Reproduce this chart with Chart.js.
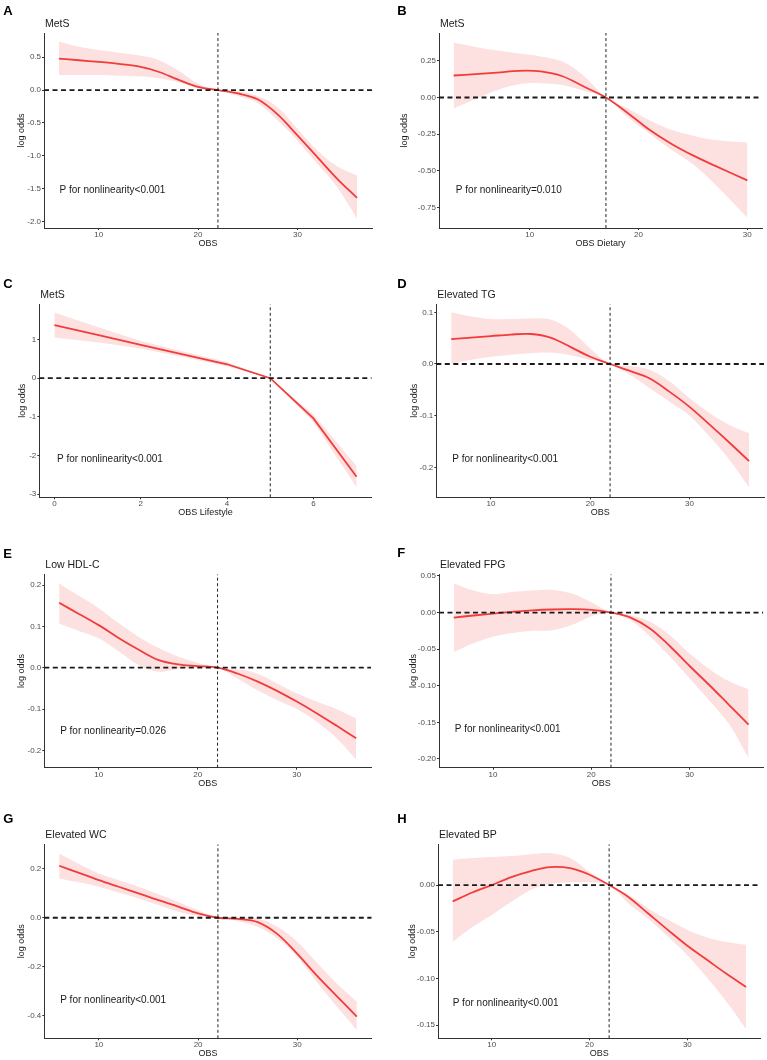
<!DOCTYPE html>
<html lang="en">
<head>
<meta charset="UTF-8">
<title>OBS restricted cubic spline panels</title>
<script src="https://cdn.jsdelivr.net/npm/chart.js"></script>
<style>
  body { margin: 0; background: #fff; }
  #wrap { position: relative; width: 767px; height: 1060px; }
  #wrap canvas { position: absolute; }
</style>
</head>
<body>
<div id="wrap"></div>
<script>
// ---- data ----
const obsGrid = [6, 8, 10, 12, 14, 16, 18, 20, 22, 24, 26, 28, 30, 32, 34, 36];
const obsDietary = [3, 5, 7, 9, 11, 13, 15, 17, 19, 21, 23, 25, 27, 30];
const obsLifestyle = [0, 1, 2, 3, 4, 5, 6, 7];

const fitA = [0.48, 0.455, 0.43, 0.40, 0.36, 0.28, 0.16, 0.05, 0, -0.05, -0.14, -0.37, -0.69, -1.02, -1.35, -1.64];
const upperA = [0.74, 0.66, 0.61, 0.57, 0.53, 0.46, 0.30, 0.10, 0, -0.02, -0.09, -0.26, -0.59, -0.92, -1.16, -1.30];
const lowerA = [0.23, 0.23, 0.23, 0.22, 0.21, 0.18, 0.12, 0.03, 0, -0.09, -0.20, -0.46, -0.77, -1.12, -1.48, -1.96];

const fitB = [0.15, 0.16, 0.17, 0.182, 0.178, 0.145, 0.073, 0, -0.105, -0.22, -0.315, -0.395, -0.465, -0.565];
const upperB = [0.375, 0.345, 0.32, 0.30, 0.28, 0.245, 0.145, 0, -0.075, -0.155, -0.22, -0.26, -0.29, -0.307];
const lowerB = [-0.075, -0.01, 0.05, 0.09, 0.098, 0.086, 0.045, 0, -0.135, -0.245, -0.355, -0.455, -0.59, -0.82];

const fitC = [1.37, 1.12, 0.86, 0.61, 0.36, 0, -1.04, -2.55];
const upperC = [1.70, 1.32, 0.96, 0.68, 0.42, 0, -0.94, -2.27];
const lowerC = [1.05, 0.93, 0.77, 0.54, 0.31, 0, -1.13, -2.82];

const fitD = [0.048, 0.051, 0.054, 0.057, 0.058, 0.051, 0.033, 0.014, 0, -0.0135, -0.028, -0.054, -0.083, -0.117, -0.152, -0.188];
const upperD = [0.10, 0.092, 0.087, 0.087, 0.088, 0.086, 0.066, 0.03, 0, -0.004, -0.011, -0.034, -0.066, -0.095, -0.118, -0.134];
const lowerD = [0.0, 0.008, 0.014, 0.018, 0.021, 0.022, 0.017, 0.008, 0, -0.021, -0.047, -0.073, -0.10, -0.14, -0.185, -0.239];

const fitE = [0.157, 0.13, 0.103, 0.072, 0.044, 0.019, 0.008, 0.004, 0, -0.014, -0.033, -0.056, -0.082, -0.11, -0.14, -0.171];
const upperE = [0.204, 0.174, 0.144, 0.108, 0.075, 0.048, 0.027, 0.012, 0, -0.004, -0.014, -0.038, -0.062, -0.082, -0.10, -0.123];
const lowerE = [0.107, 0.089, 0.071, 0.04, 0.007, -0.01, -0.003, 0, 0, -0.026, -0.054, -0.078, -0.10, -0.13, -0.17, -0.222];

const fitF = [-0.0068, -0.004, -0.0014, 0.001, 0.003, 0.0042, 0.0046, 0.0038, 0, -0.0068, -0.022, -0.046, -0.073, -0.099, -0.126, -0.153];
const upperF = [0.04, 0.03, 0.025, 0.028, 0.03, 0.031, 0.026, 0.014, 0, -0.0036, -0.0127, -0.031, -0.056, -0.077, -0.094, -0.105];
const lowerF = [-0.054, -0.042, -0.033, -0.028, -0.025, -0.024, -0.017, -0.005, 0, -0.011, -0.033, -0.06, -0.09, -0.12, -0.152, -0.199];

const fitG = [0.213, 0.184, 0.154, 0.127, 0.10, 0.072, 0.046, 0.018, 0, -0.005, -0.018, -0.067, -0.148, -0.238, -0.322, -0.405];
const upperG = [0.263, 0.22, 0.181, 0.154, 0.127, 0.096, 0.065, 0.031, 0, 0.0, -0.003, -0.037, -0.098, -0.185, -0.27, -0.344];
const lowerG = [0.161, 0.145, 0.127, 0.103, 0.079, 0.052, 0.025, 0.008, 0, -0.014, -0.037, -0.085, -0.16, -0.265, -0.365, -0.46];

const fitH = [-0.0175, -0.008, 0.0, 0.0085, 0.015, 0.0192, 0.018, 0.011, 0, -0.013, -0.0305, -0.048, -0.065, -0.08, -0.095, -0.109];
const upperH = [0.027, 0.029, 0.030, 0.031, 0.033, 0.034, 0.029, 0.014, 0, -0.0107, -0.025, -0.037, -0.048, -0.056, -0.061, -0.064];
const lowerH = [-0.061, -0.045, -0.032, -0.018, -0.005, 0.001, 0.003, 0.003, 0, -0.02, -0.036, -0.055, -0.075, -0.099, -0.125, -0.154];

// tick labels
const xTicksOBS = [10, 20, 30];
const xTicksLifestyle = [0, 2, 4, 6];
const yTicksA = [-2.0, -1.5, -1.0, -0.5, 0.0, 0.5];
const yTicksB = [-0.75, -0.5, -0.25, 0, 0.25];
const yTicksC = [-3, -2, -1, 0, 1];
const yTicksD = [-0.2, -0.1, 0, 0.1];
const yTicksE = [-0.2, -0.1, 0, 0.1, 0.2];
const yTicksF = [-0.2, -0.15, -0.1, -0.05, 0, 0.05];
const yTicksG = [-0.4, -0.2, 0, 0.2];
const yTicksH = [-0.15, -0.1, -0.05, 0];

const pNotes = ['P for nonlinearity<0.001', 'P for nonlinearity=0.010', 'P for nonlinearity<0.001', 'P for nonlinearity<0.001',
                'P for nonlinearity=0.026', 'P for nonlinearity<0.001', 'P for nonlinearity<0.001', 'P for nonlinearity<0.001'];

// ---- panel setup ----
const FONT = "'Liberation Sans', Arial, Helvetica, sans-serif";
Chart.defaults.font.family = FONT;
Chart.defaults.animation = false;

const panels = [
  { letter: 'A', col: 0, row: 0, title: 'MetS', xLabel: 'OBS', x: obsGrid, fit: fitA, up: upperA, lo: lowerA,
    xr: [4.5, 37.5], yr: [-2.1, 0.87], xt: xTicksOBS, yt: yTicksA, dec: 1, vline: 22, noteAt: [6.06, -1.52],
    area: [44, 372, 33, 228], yTitleX: 21.7, letterY: 15 },
  { letter: 'B', col: 1, row: 0, title: 'MetS', xLabel: 'OBS Dietary', x: obsDietary, fit: fitB, up: upperB, lo: lowerB,
    xr: [1.65, 31.35], yr: [-0.89, 0.44], xt: xTicksOBS, yt: yTicksB, dec: 2, vline: 17, noteAt: [3.2, -0.633],
    area: [55, 378, 33, 228], yTitleX: 21, letterY: 15 },
  { letter: 'C', col: 0, row: 1, title: 'MetS', xLabel: 'OBS Lifestyle', x: obsLifestyle, fit: fitC, up: upperC, lo: lowerC,
    xr: [-0.35, 7.35], yr: [-3.08, 1.91], xt: xTicksLifestyle, yt: yTicksC, dec: 0, vline: 5, noteAt: [0.06, -2.09],
    area: [39.3, 371.7, 39.3, 232.3], yTitleX: 23, letterY: 23.3, straight: true },
  { letter: 'D', col: 1, row: 1, title: 'Elevated TG', xLabel: 'OBS', x: obsGrid, fit: fitD, up: upperD, lo: lowerD,
    xr: [4.5, 37.5], yr: [-0.258, 0.1155], xt: xTicksOBS, yt: yTicksD, dec: 1, vline: 22, noteAt: [6.1, -0.184],
    area: [52.3, 380, 39.3, 232.3], yTitleX: 30.8, letterY: 23.3 },
  { letter: 'E', col: 0, row: 2, title: 'Low HDL-C', xLabel: 'OBS', x: obsGrid, fit: fitE, up: upperE, lo: lowerE,
    xr: [4.5, 37.5], yr: [-0.242, 0.226], xt: xTicksOBS, yt: yTicksE, dec: 1, vline: 22, noteAt: [6.1, -0.153],
    area: [44.3, 371, 44.3, 237.7], yTitleX: 21.7, letterY: 27.7 },
  { letter: 'F', col: 1, row: 2, title: 'Elevated FPG', xLabel: 'OBS', x: obsGrid, fit: fitF, up: upperF, lo: lowerF,
    xr: [4.5, 37.5], yr: [-0.212, 0.0523], xt: xTicksOBS, yt: yTicksF, dec: 2, vline: 22, noteAt: [6.1, -0.16],
    area: [55, 379.3, 44.3, 237.7], yTitleX: 30, letterY: 26.7 },
  { letter: 'G', col: 0, row: 3, title: 'Elevated WC', xLabel: 'OBS', x: obsGrid, fit: fitG, up: upperG, lo: lowerG,
    xr: [4.5, 37.5], yr: [-0.494, 0.301], xt: xTicksOBS, yt: yTicksG, dec: 1, vline: 22, noteAt: [6.1, -0.337],
    area: [44.3, 371.7, 49.3, 243.3], yTitleX: 21.7, letterY: 28.3 },
  { letter: 'H', col: 1, row: 3, title: 'Elevated BP', xLabel: 'OBS', x: obsGrid, fit: fitH, up: upperH, lo: lowerH,
    xr: [4.5, 37.5], yr: [-0.164, 0.0436], xt: xTicksOBS, yt: yTicksH, dec: 2, vline: 22, noteAt: [6.0, -0.127],
    area: [54, 376.7, 49.3, 243.3], yTitleX: 28.3, letterY: 28.3 },
];

const panelText = {
  id: 'panelText',
  afterDraw(chart, args, o) {
    const ctx = chart.ctx, a = chart.chartArea;
    ctx.save();
    ctx.textAlign = 'left';
    ctx.textBaseline = 'alphabetic';
    ctx.fillStyle = '#000';
    ctx.font = 'bold 13px ' + FONT;
    ctx.fillText(o.letter, o.letterX, o.letterY);
    ctx.fillStyle = '#1a1a1a';
    ctx.font = '10.5px ' + FONT;
    ctx.fillText(o.title, a.left + 1, a.top - 6.5);
    ctx.font = '10px ' + FONT;
    ctx.textBaseline = 'middle';
    ctx.fillText(o.note, chart.scales.x.getPixelForValue(o.noteAt[0]), chart.scales.y.getPixelForValue(o.noteAt[1]));
    ctx.restore();
  }
};

const CELL_H = 265;
const X_AXIS_H = 21;
const wrap = document.getElementById('wrap');

panels.forEach((p, i) => {
  const cellX = p.col === 0 ? 0 : 384;
  const cellW = p.col === 0 ? 384 : 383;
  const cellY = p.row * CELL_H;
  const [aL, aR, aT, aB] = p.area;

  const cv = document.createElement('canvas');
  cv.width = cellW; cv.height = CELL_H;
  cv.style.left = cellX + 'px'; cv.style.top = cellY + 'px';
  wrap.appendChild(cv);

  const pts = arr => p.x.map((v, k) => ({ x: v, y: arr[k] }));
  const curve = { tension: p.straight ? 0 : 0.35 };

  const axisCommon = {
    type: 'linear',
    grid: { display: true, drawOnChartArea: false, drawTicks: true, tickLength: 2, color: '#333', lineWidth: 1 },
    border: { display: true, color: '#333', width: 1 },
  };

  new Chart(cv, {
    type: 'line',
    data: {
      datasets: [
        { data: [{ x: p.xr[0], y: 0 }, { x: p.xr[1], y: 0 }], borderColor: '#1a1a1a', borderWidth: 1.8,
          borderDash: [5, 3.5], pointRadius: 0, fill: false, tension: 0 },
        { data: [{ x: p.vline, y: p.yr[0] }, { x: p.vline, y: p.yr[1] }], borderColor: '#222', borderWidth: 1,
          borderDash: [3, 2.5], pointRadius: 0, fill: false, tension: 0 },
        Object.assign({ data: pts(p.fit), borderColor: '#f23c3c', borderWidth: 1.8, pointRadius: 0, fill: false }, curve),
        Object.assign({ data: pts(p.up), borderColor: 'rgba(0,0,0,0)', borderWidth: 0, pointRadius: 0,
          backgroundColor: '#fde0e0', fill: { target: 4 } }, curve),
        Object.assign({ data: pts(p.lo), borderColor: 'rgba(0,0,0,0)', borderWidth: 0, pointRadius: 0, fill: false }, curve),
      ]
    },
    options: {
      responsive: false,
      devicePixelRatio: 1,
      layout: { padding: { left: 0, top: aT, right: cellW - aR, bottom: CELL_H - aB - X_AXIS_H } },
      plugins: {
        legend: { display: false },
        tooltip: { enabled: false },
        panelText: { letter: p.letter, letterX: p.col === 0 ? 3.3 : 13.3, letterY: p.letterY,
                     title: p.title, note: pNotes[i], noteAt: p.noteAt }
      },
      scales: {
        x: Object.assign({}, axisCommon, {
          min: p.xr[0], max: p.xr[1],
          afterBuildTicks: s => { s.ticks = p.xt.map(v => ({ value: v })); },
          afterFit: s => { s.height = X_AXIS_H; },
          ticks: { color: '#4d4d4d', font: { size: 8 }, padding: 0, maxRotation: 0, autoSkip: false,
                   callback: v => String(v) },
          title: { display: true, text: p.xLabel, color: '#1a1a1a', font: { size: 9 }, padding: 0 }
        }),
        y: Object.assign({}, axisCommon, {
          min: p.yr[0], max: p.yr[1],
          afterBuildTicks: s => { s.ticks = p.yt.map(v => ({ value: v })); },
          afterFit: s => { s.width = aL; },
          ticks: { color: '#4d4d4d', font: { size: 8 }, padding: 1, autoSkip: false,
                   callback: v => Number(v).toFixed(p.dec) },
          title: { display: true, text: 'log odds', color: '#1a1a1a', font: { size: 9 },
                   padding: { top: p.yTitleX - 5.4, bottom: 0 } }
        })
      }
    },
    plugins: [panelText]
  });
});
</script>
</body>
</html>
